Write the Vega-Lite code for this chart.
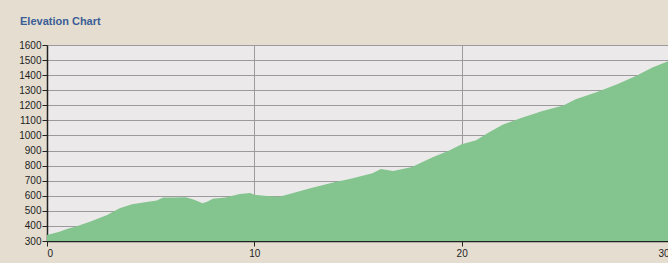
{
  "$schema": "https://vega.github.io/schema/vega-lite/v6.json",
  "width": 622,
  "height": 196,
  "autosize": {"type": "none"},
  "padding": {"left": 47, "top": 45, "right": 0, "bottom": 22},
  "background": "#e4ddd0",
  "title": {
    "text": "Elevation Chart",
    "anchor": "start",
    "frame": "group",
    "dx": -27,
    "offset": 13,
    "fontSize": 11,
    "font": "Liberation Sans",
    "fontWeight": "bold",
    "color": "#3b5e96"
  },
  "config": {
    "view": {"fill": "#ebe9e9", "stroke": null},
    "axis": {
      "labelFont": "Liberation Sans",
      "labelFontSize": 10,
      "labelColor": "#1e1e1e",
      "domainColor": "#222222",
      "domainWidth": 1.5,
      "tickColor": "#222222",
      "tickSize": 5,
      "gridColor": "#9c9a9c",
      "gridWidth": 1,
      "title": null
    }
  },
  "data": {
    "values": [
      {"km": 0, "elev": 340},
      {"km": 0.6, "elev": 362},
      {"km": 1.0, "elev": 382},
      {"km": 1.4, "elev": 396},
      {"km": 2.1, "elev": 429},
      {"km": 2.9, "elev": 473},
      {"km": 3.5, "elev": 518},
      {"km": 4.1, "elev": 544},
      {"km": 4.8, "elev": 558},
      {"km": 5.3, "elev": 569},
      {"km": 5.6, "elev": 589},
      {"km": 6.1, "elev": 588},
      {"km": 6.7, "elev": 590},
      {"km": 7.1, "elev": 573},
      {"km": 7.5, "elev": 551},
      {"km": 7.75, "elev": 562},
      {"km": 8.0, "elev": 580},
      {"km": 8.6, "elev": 589},
      {"km": 9.3, "elev": 611},
      {"km": 9.8, "elev": 618},
      {"km": 10.0, "elev": 607},
      {"km": 10.6, "elev": 598},
      {"km": 11.2, "elev": 593},
      {"km": 11.7, "elev": 612},
      {"km": 12.7, "elev": 650},
      {"km": 13.8, "elev": 688},
      {"km": 14.6, "elev": 712},
      {"km": 15.7, "elev": 750},
      {"km": 16.1, "elev": 778},
      {"km": 16.7, "elev": 765},
      {"km": 17.6, "elev": 790},
      {"km": 18.6, "elev": 855},
      {"km": 19.4, "elev": 900},
      {"km": 20.0, "elev": 942},
      {"km": 20.7, "elev": 968},
      {"km": 21.3, "elev": 1020},
      {"km": 22.0, "elev": 1072},
      {"km": 22.9, "elev": 1118},
      {"km": 23.9, "elev": 1163},
      {"km": 24.9, "elev": 1198},
      {"km": 25.5, "elev": 1240},
      {"km": 26.5, "elev": 1286},
      {"km": 27.5, "elev": 1340},
      {"km": 28.4, "elev": 1395},
      {"km": 29.2, "elev": 1450},
      {"km": 30, "elev": 1495}
    ]
  },
  "mark": {"type": "area", "color": "#84c48e", "opacity": 1, "clip": true},
  "encoding": {
    "x": {
      "field": "km",
      "type": "quantitative",
      "scale": {"domain": [0, 30], "nice": false},
      "axis": {"values": [0, 10, 20, 30], "grid": true, "labelPadding": 2, "format": "d"}
    },
    "y": {
      "field": "elev",
      "type": "quantitative",
      "scale": {"domain": [300, 1600], "nice": false, "zero": false},
      "axis": {"values": [300, 400, 500, 600, 700, 800, 900, 1000, 1100, 1200, 1300, 1400, 1500, 1600], "grid": true, "labelPadding": 1, "format": "d"}
    }
  }
}
